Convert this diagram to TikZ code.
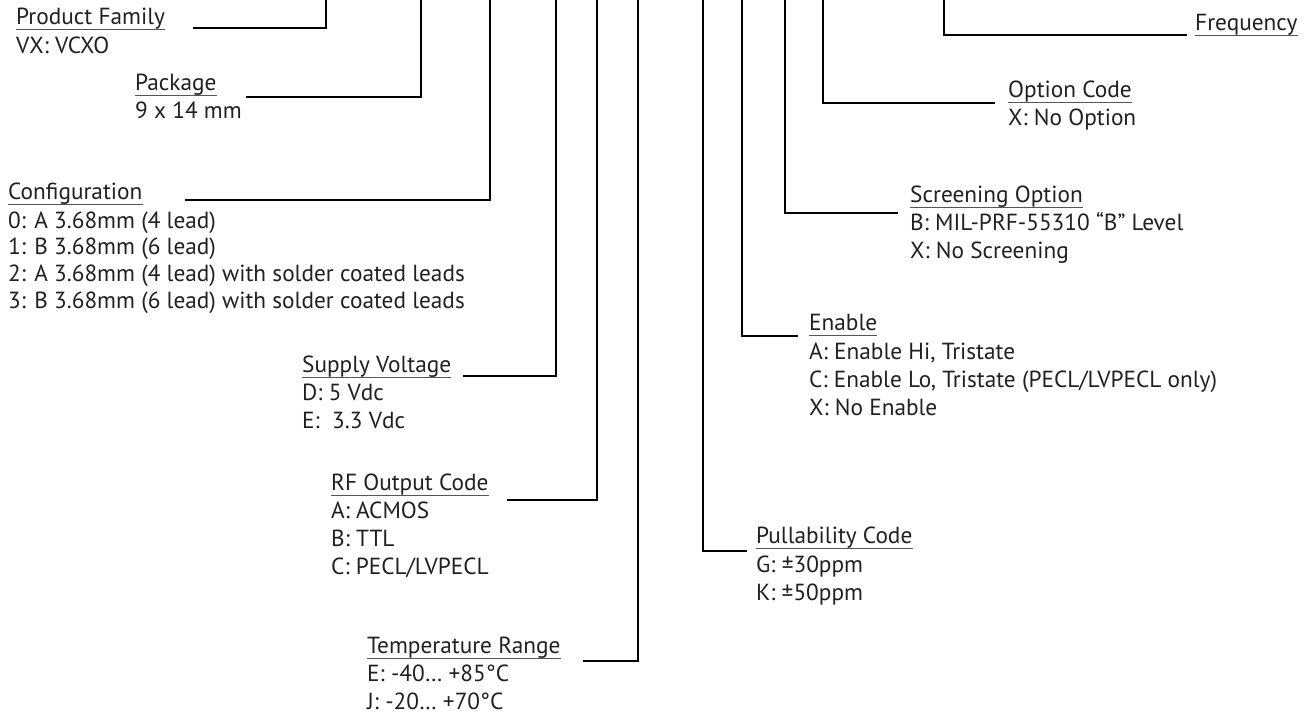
\documentclass[tikz,border=0pt]{standalone}
\usepackage{fontspec}
\setmainfont{PT Sans}
\definecolor{ink}{HTML}{231F20}
\definecolor{ulc}{HTML}{555555}
\tikzset{
  ttl/.style={inner sep=0pt, anchor=base west, text=ink, font=\fontsize{23.3}{28}\selectfont},
  itm/.style={inner sep=0pt, anchor=base west, text=ink, font=\fontsize{23.3}{28}\selectfont},
  uline/.style={draw=ulc, line width=1.3pt},
  conn/.style={draw=black, line width=2.4pt, line join=miter}
}
\newcommand{\spec}[7]{% name, x, title baseline, title, first item baseline, spacing, items
  \node[ttl] (#1) at (#2,#3) {#4};
  \draw[uline] ([yshift=-5.5pt]#1.base west) -- ([yshift=-5.5pt]#1.base east);
  \foreach \t [count=\i] in {#7} {
    \node[itm] (#1-\i) at (#2,{#5+#6*(\i-1)}) {\t};
  }
}
\begin{document}
\begin{tikzpicture}[x=1pt,y=-1pt]
\useasboundingbox (0,0) rectangle (1312,715);

% left side blocks
\spec{pf}{16}{24}{Product Family}{53}{28}{{VX: VCXO}}
\spec{pk}{135}{90}{Package}{118}{28}{{9 x 14 mm}}
\spec{cf}{8}{199}{Configuration}{228}{26.7}{{0: A 3.68mm (4 lead)},{1: B 3.68mm (6 lead)},{2: A 3.68mm (4 lead) with solder coated leads},{3: B 3.68mm (6 lead) with solder coated leads}}
\spec{sv}{302}{372}{Supply Voltage}{400}{28.3}{{D: 5 Vdc},{E:\ \ 3.3 Vdc}}
\spec{rf}{331}{490}{RF Output Code}{518}{28.3}{{A: ACMOS},{B: TTL},{C: PECL/LVPECL}}
\spec{tr}{367}{653}{Temperature Range}{681}{28}{{E: -40… +85°C},{J: -20… +70°C}}

% right side blocks
\spec{pc}{756}{543}{Pullability Code}{572}{28.3}{{G: ±30ppm},{K: ±50ppm}}
\spec{en}{809}{330}{Enable}{359}{28.3}{{A: Enable Hi, Tristate},{C: Enable Lo, Tristate (PECL/LVPECL only)},{X: No Enable}}
\spec{sc}{910}{202}{Screening Option}{230}{28.3}{{B: MIL-PRF-55310 “B” Level},{X: No Screening}}
\spec{oc}{1008}{97}{Option Code}{125}{28}{{X: No Option}}
\node[ttl] (fq) at (1195,30) {Frequency};
\draw[uline] ([yshift=-5.5pt]fq.base west) -- ([yshift=-5.5pt]fq.base east);

% connector end points
\coordinate (pf-s) at (193,28);  \coordinate (pf-t) at (326,0);
\coordinate (pk-s) at (246,97);  \coordinate (pk-t) at (421,0);
\coordinate (cf-s) at (185,200); \coordinate (cf-t) at (490,0);
\coordinate (sv-s) at (463,376); \coordinate (sv-t) at (556,0);
\coordinate (rf-s) at (507,500); \coordinate (rf-t) at (597,0);
\coordinate (tr-s) at (583,661); \coordinate (tr-t) at (638,0);
\coordinate (pc-s) at (747,551); \coordinate (pc-t) at (703,0);
\coordinate (en-s) at (798,336); \coordinate (en-t) at (742,0);
\coordinate (sc-s) at (898,213); \coordinate (sc-t) at (785,0);
\coordinate (oc-s) at (995,103); \coordinate (oc-t) at (823,0);
\coordinate (fq-s) at (1187,35); \coordinate (fq-t) at (944,0);

\foreach \n in {pf,pk,cf,sv,rf,tr,pc,en,sc,oc,fq}{
  \draw[conn] (\n-s) -| (\n-t);
}
\end{tikzpicture}
\end{document}
